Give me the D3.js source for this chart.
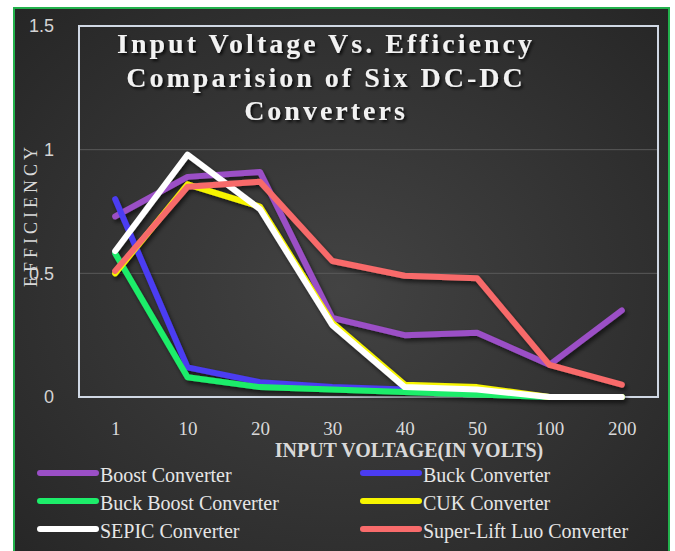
<!DOCTYPE html>
<html>
<head>
<meta charset="utf-8">
<title>Input Voltage Vs. Efficiency</title>
<script src="https://d3js.org/d3.v7.min.js"></script>
<style>
  body { margin: 0; background: #fff; }
  svg { display: block; }
</style>
</head>
<body>
<script>
// categories on the x axis (input voltage)
var voltages = ["1", "10", "20", "30", "40", "50", "100", "200"];
var yTicks = [0, 0.5, 1, 1.5];

// efficiency per converter
var boost      = [0.73, 0.89, 0.91, 0.32, 0.25, 0.26, 0.13, 0.35];
var buck       = [0.80, 0.12, 0.06, 0.04, 0.03, 0.02, 0.00, 0.00];
var buckBoost  = [0.58, 0.08, 0.04, 0.03, 0.02, 0.01, 0.00, 0.00];
var cuk        = [0.50, 0.86, 0.77, 0.30, 0.05, 0.04, 0.00, 0.00];
var sepic      = [0.59, 0.98, 0.76, 0.29, 0.04, 0.03, 0.00, 0.00];
var superLift  = [0.51, 0.85, 0.87, 0.55, 0.49, 0.48, 0.13, 0.05];

var seriesNames  = ["Boost Converter", "Buck Converter", "Buck Boost Converter", "CUK Converter", "SEPIC Converter", "Super-Lift Luo Converter"];
var seriesColors = ["#9b4fc6", "#4b3cf2", "#1ded6a", "#f7f500", "#ffffff", "#f86b6b"];
var seriesValues = [boost, buck, buckBoost, cuk, sepic, superLift];

var W = 675, H = 551;
var plot = {left: 79, right: 658, top: 26, bottom: 397};

var svg = d3.select("body").append("svg")
    .attr("width", W)
    .attr("height", H);

var defs = svg.append("defs");
var grad = defs.append("radialGradient")
    .attr("id", "bg")
    .attr("cx", "50%").attr("cy", "50%").attr("r", "70%");
grad.append("stop").attr("offset", "0%").attr("stop-color", "#434343");
grad.append("stop").attr("offset", "100%").attr("stop-color", "#262626");

var shadow = defs.append("filter").attr("id", "shadow")
    .attr("x", "-10%").attr("y", "-10%").attr("width", "130%").attr("height", "130%");
shadow.append("feDropShadow")
    .attr("dx", 2).attr("dy", 3).attr("stdDeviation", 2)
    .attr("flood-color", "#000").attr("flood-opacity", 0.6);

var tshadow = defs.append("filter").attr("id", "tshadow");
tshadow.append("feDropShadow")
    .attr("dx", 2).attr("dy", 2).attr("stdDeviation", 1.5)
    .attr("flood-color", "#000").attr("flood-opacity", 0.8);

// chart area with green border
svg.append("rect")
    .attr("x", 14).attr("y", 8)
    .attr("width", 655).attr("height", 560)
    .attr("fill", "url(#bg)")
    .attr("stroke", "#22b14c")
    .attr("stroke-width", 2);

var x = d3.scalePoint()
    .domain(voltages)
    .range([plot.left, plot.right])
    .padding(0.5);

var y = d3.scaleLinear()
    .domain([0, 1.5])
    .range([plot.bottom, plot.top]);

// gridlines
svg.append("g").selectAll("line")
    .data([0.5, 1])
    .enter().append("line")
    .attr("x1", plot.left).attr("x2", plot.right)
    .attr("y1", function(d){ return y(d); })
    .attr("y2", function(d){ return y(d); })
    .attr("stroke", "#5a5a5a")
    .attr("stroke-width", 1);

// plot area outline
svg.append("rect")
    .attr("x", plot.left).attr("y", plot.top)
    .attr("width", plot.right - plot.left)
    .attr("height", plot.bottom - plot.top)
    .attr("fill", "none")
    .attr("stroke", "#d0d8e4")
    .attr("stroke-width", 2);

// y axis
var yAxis = svg.append("g")
    .attr("transform", "translate(" + plot.left + ",0)")
    .call(d3.axisLeft(y).tickValues(yTicks).tickSize(0).tickPadding(25)
        .tickFormat(function(d){ return d; }));
yAxis.select(".domain").remove();
yAxis.selectAll("text")
    .attr("fill", "#d4d4d4")
    .style("font-family", "'Liberation Sans', sans-serif")
    .style("font-size", "18px");

// x axis
var xAxis = svg.append("g")
    .attr("transform", "translate(0," + plot.bottom + ")")
    .call(d3.axisBottom(x).tickSize(0).tickPadding(25));
xAxis.select(".domain").remove();
xAxis.selectAll("text")
    .attr("fill", "#d9d9d9")
    .style("font-family", "'Liberation Serif', serif")
    .style("font-size", "19px");

// series lines
var line = d3.line()
    .x(function(d, i){ return x(voltages[i]); })
    .y(function(d){ return y(d); });

svg.append("g").attr("filter", "url(#shadow)")
    .selectAll("path")
    .data(seriesValues)
    .enter().append("path")
    .attr("d", line)
    .attr("fill", "none")
    .attr("stroke", function(d, i){ return seriesColors[i]; })
    .attr("stroke-width", 6)
    .attr("stroke-linejoin", "round")
    .attr("stroke-linecap", "round");

// title
var titleLines = ["Input Voltage Vs. Efficiency", "Comparision of Six DC-DC", "Converters"];
svg.append("g").attr("filter", "url(#tshadow)")
    .selectAll("text")
    .data(titleLines)
    .enter().append("text")
    .attr("x", 326)
    .attr("y", function(d, i){ return 53 + i * 33.5; })
    .attr("text-anchor", "middle")
    .attr("fill", "#f2f2f2")
    .style("font-family", "'Liberation Serif', serif")
    .style("font-weight", "bold")
    .style("font-size", "28px")
    .style("letter-spacing", "3px")
    .text(function(d){ return d; });

// axis titles
svg.append("text")
    .attr("x", 409).attr("y", 457)
    .attr("text-anchor", "middle")
    .attr("fill", "#d9d9d9")
    .style("font-family", "'Liberation Serif', serif")
    .style("font-weight", "bold")
    .style("font-size", "20px")
    .text("INPUT VOLTAGE(IN VOLTS)");

svg.append("text")
    .attr("transform", "translate(37,217) rotate(-90)")
    .attr("text-anchor", "middle")
    .attr("fill", "#d9d9d9")
    .attr("textLength", 140)
    .attr("lengthAdjust", "spacing")
    .style("font-family", "'Liberation Serif', serif")
    .style("font-size", "18px")
    .text("EFFICIENCY");

// legend
var legend = svg.append("g").selectAll("g")
    .data(seriesNames)
    .enter().append("g")
    .attr("transform", function(d, i){
        var col = i % 2, row = Math.floor(i / 2);
        return "translate(" + (col ? 363 : 40) + "," + (473 + row * 28) + ")";
    });
legend.append("line")
    .attr("x1", 0).attr("x2", 56)
    .attr("y1", 0).attr("y2", 0)
    .attr("stroke", function(d, i){ return seriesColors[i]; })
    .attr("stroke-width", 6)
    .attr("stroke-linecap", "round");
legend.append("text")
    .attr("x", 60).attr("y", 9)
    .attr("fill", "#e6e6e6")
    .style("font-family", "'Liberation Serif', serif")
    .style("font-size", "20px")
    .text(function(d){ return d; });
</script>
</body>
</html>
